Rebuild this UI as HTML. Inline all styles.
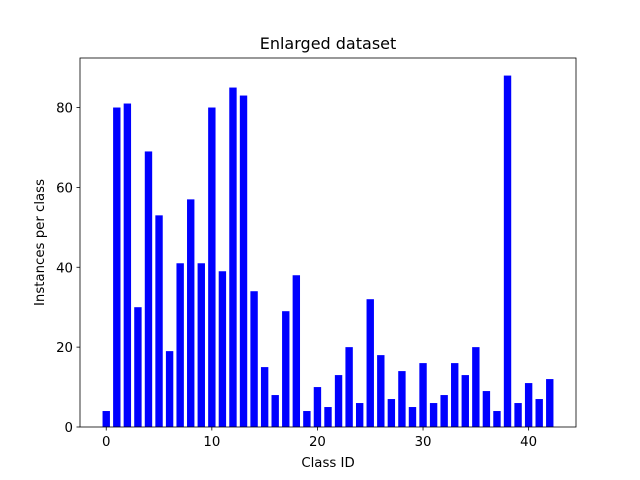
<!DOCTYPE html>
<html><head><meta charset="utf-8"><style>
body{margin:0;background:#fff;}
svg{display:block;font-family:"DejaVu Sans","Liberation Sans",sans-serif;}
</style></head><body>
<svg id="chart" width="640" height="480"></svg>
<script>
const categories = Array.from({length:43},(_, i)=>i);
const counts = [4,80,81,30,69,53,19,41,57,41,80,39,85,83,34,15,8,29,38,4,10,5,13,20,6,32,18,7,14,5,16,6,8,16,13,20,9,4,88,6,11,7,12];
const xTicks = [0,10,20,30,40];
const yTicks = [0,20,40,60,80];

const NS='http://www.w3.org/2000/svg';
const svg=document.getElementById('chart');
const L=80,R=576,T=58,B=427;
const bw=0.7;
const xmin=-bw/2, xmax=categories.length-1+bw/2, xm=(xmax-xmin)*0.05;
const x0=xmin-xm, x1=xmax+xm;
const ymax=Math.max(...counts)*1.05;
const sx=v=>L+(v-x0)/(x1-x0)*(R-L);
const sy=v=>B-v/ymax*(B-T);
function mk(tag,attrs,parent){const e=document.createElementNS(NS,tag);for(const k in attrs)e.setAttribute(k,attrs[k]);(parent||svg).appendChild(e);return e;}

categories.forEach((c,i)=>{
  const r=mk('rect',{x:sx(c-bw/2),y:sy(counts[i]),width:sx(c+bw/2)-sx(c-bw/2),height:sy(0)-sy(counts[i]),fill:'#0000ff'});
  
  
});
const frame=mk('rect',{x:L,y:T,width:R-L,height:B-T,fill:'none',stroke:'#000','stroke-width':0.8});


xTicks.forEach(t=>{
  const X=sx(t);
  mk('line',{x1:X,x2:X,y1:B,y2:B+3.5,stroke:'#000','stroke-width':0.8});
  const tx=mk('text',{x:X,y:B+19,'text-anchor':'middle','font-size':13.3});
  tx.textContent=t;
  
  
});
yTicks.forEach(t=>{
  const Y=sy(t);
  mk('line',{x1:L-3.5,x2:L,y1:Y,y2:Y,stroke:'#000','stroke-width':0.8});
  const tx=mk('text',{x:L-7,y:Y+5,'text-anchor':'end','font-size':13.3});
  tx.textContent=t;
  
  
});
const title=mk('text',{x:(L+R)/2,y:49,'text-anchor':'middle','font-size':16});
title.textContent='Enlarged dataset';


const xl=mk('text',{x:(L+R)/2,y:467,'text-anchor':'middle','font-size':13.3});
xl.textContent='Class ID';


const yl=mk('text',{x:0,y:0,'text-anchor':'middle','font-size':13.3,transform:`translate(44,${(T+B)/2}) rotate(-90)`});
yl.textContent='Instances per class';


</script>
</body></html>
